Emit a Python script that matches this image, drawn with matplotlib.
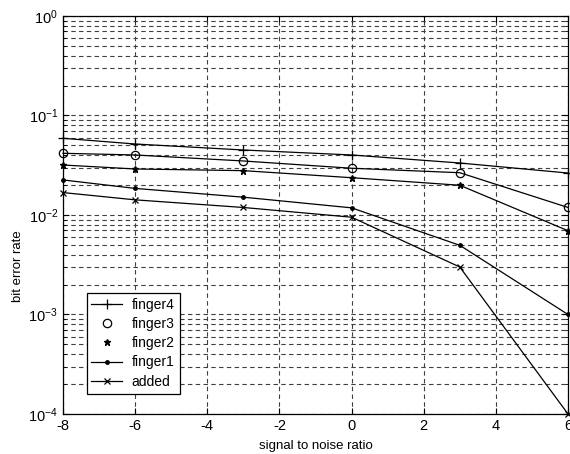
### Bit error rate vs signal to noise ratio, per finger ###
import matplotlib.pyplot as plt

plt.rcParams['font.family'] = ['Liberation Sans', 'DejaVu Sans']
plt.rcParams['mathtext.default'] = 'regular'
plt.rcParams['axes.unicode_minus'] = False
plt.rcParams['font.size'] = 9.5

# data
snr = [-8, -6, -3, 0, 3, 6]
finger4 = [0.0590, 0.0517, 0.0450, 0.0401, 0.0333, 0.0264]
finger3 = [0.0417, 0.0401, 0.0349, 0.0295, 0.0266, 0.0119]
finger2 = [0.0318, 0.0290, 0.0279, 0.0237, 0.0199, 0.00695]
finger1 = [0.0225, 0.0185, 0.0151, 0.0118, 0.00496, 0.0010]
added = [0.0168, 0.0142, 0.0119, 0.0095, 0.0030, 0.0001]

x_ticks = [-8, -6, -4, -2, 0, 2, 4, 6]

fig = plt.figure(figsize=(5.70, 4.54), dpi=100)
ax = fig.add_axes([0.1105, 0.0881, 0.886, 0.8767])

kw = dict(color='black', linewidth=0.9, clip_on=False)
l4, = ax.plot(snr, finger4, marker='+', markersize=7, markeredgewidth=0.9, **kw)
ax.plot(snr, finger3, **kw)
l3, = ax.plot(snr, finger3, marker='o', markersize=6, markerfacecolor='none',
              markeredgewidth=0.9, linestyle='none', color='black', clip_on=False)
ax.plot(snr, finger2, **kw)
l2, = ax.plot(snr, finger2, marker='*', markersize=5, linestyle='none',
              color='black', clip_on=False)
l1, = ax.plot(snr, finger1, marker='.', markersize=5, **kw)
la, = ax.plot(snr, added, marker='x', markersize=4.5, markeredgewidth=0.9, **kw)

ax.set_yscale('log')
ax.set_ylim(1e-4, 1)
ax.set_xlim(-8, 6)
ax.set_xticks(x_ticks)

grid_kw = dict(color='#404040', linewidth=0.8, linestyle=(0, (4, 3)))
ax.grid(True, which='major', axis='both', **grid_kw)
ax.grid(True, which='minor', axis='y', **grid_kw)
ax.tick_params(which='both', direction='in', top=True, right=True, labelsize=10.5)
ax.tick_params(which='major', length=4)
ax.tick_params(which='minor', length=2)
for s in ax.spines.values():
    s.set_linewidth(0.9)

ax.set_xlabel('signal to noise ratio', labelpad=-1)
ax.set_ylabel('bit error rate')
ax.xaxis.set_label_coords(0.5, -0.065)
ax.yaxis.set_label_coords(-0.078, 0.372)

leg = ax.legend([l4, l3, l2, l1, la], ['finger4', 'finger3', 'finger2', 'finger1', 'added'],
                loc='lower left', bbox_to_anchor=(0.033, 0.034), fancybox=False,
                framealpha=1, edgecolor='black', borderpad=0.35, labelspacing=0.38,
                handlelength=2.2, handletextpad=0.7, fontsize=10)
leg.get_frame().set_linewidth(0.9)

plt.savefig('out.png')
